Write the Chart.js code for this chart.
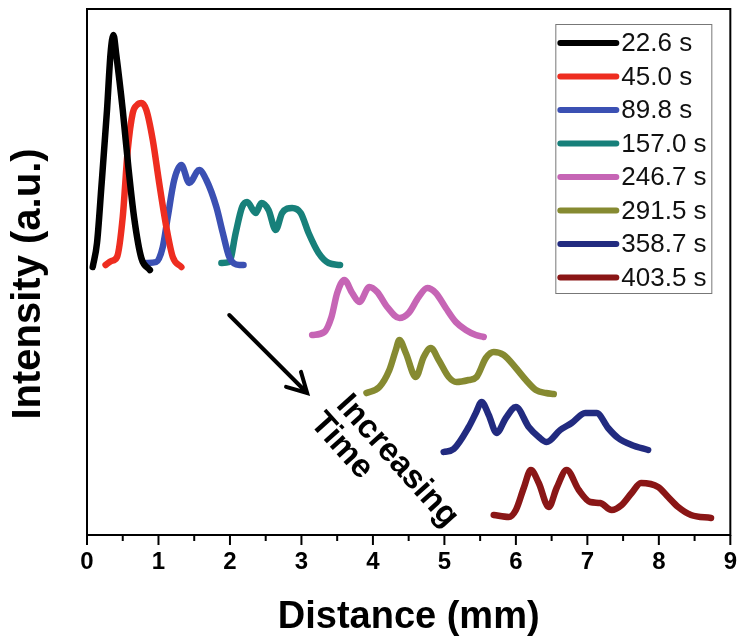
<!DOCTYPE html>
<html>
<head>
<meta charset="utf-8">
<script src="https://cdn.jsdelivr.net/npm/chart.js@4.4.1/dist/chart.umd.min.js"></script>
<style>
  body { margin: 0; background: #fff; }
  #wrap { width: 750px; height: 641px; }
</style>
</head>
<body>
<div id="wrap"><canvas id="mycanvas" width="750" height="641"></canvas></div>
<script>
// time labels of the profiles
var times = ['22.6 s', '45.0 s', '89.8 s', '157.0 s', '246.7 s', '291.5 s', '358.7 s', '403.5 s'];
var colors = ['#000000', '#ee2d20', '#3b50b3', '#17807a', '#c665b5', '#868a31', '#222b80', '#8a1616'];

// distance (mm) and intensity (a.u., offset per profile)
var x1 = [0.08, 0.14, 0.20, 0.28, 0.33, 0.37, 0.41, 0.50, 0.58, 0.66, 0.76, 0.88];
var y1 = [266, 290, 345, 423, 480, 498, 478, 423, 365, 315, 275, 263];

var x2 = [0.26, 0.34, 0.42, 0.50, 0.57, 0.64, 0.70, 0.76, 0.83, 0.92, 1.01, 1.11, 1.20, 1.32];
var y2 = [268, 272, 276, 316, 383, 420, 428, 430, 423, 393, 350, 306, 276, 266];

var x3 = [0.83, 0.97, 1.06, 1.13, 1.22, 1.32, 1.43, 1.57, 1.67, 1.81, 1.90, 1.99, 2.13, 2.19];
var y3 = [270, 271, 286, 316, 353, 368, 350, 363, 353, 326, 300, 276, 268, 268];

var x4 = [1.88, 1.99, 2.08, 2.17, 2.24, 2.36, 2.44, 2.54, 2.64, 2.73, 2.87, 2.99, 3.10, 3.24, 3.38, 3.54];
var y4 = [270, 271, 300, 326, 331, 320, 330, 323, 303, 320, 325, 320, 300, 280, 270, 268];

var x5 = [3.15, 3.32, 3.42, 3.50, 3.60, 3.71, 3.81, 3.95, 4.06, 4.20, 4.37, 4.50, 4.64, 4.76, 4.88, 5.02, 5.16, 5.30, 5.44, 5.55];
var y5 = [198, 201, 216, 240, 253, 240, 231, 246, 241, 226, 215, 220, 236, 245, 240, 225, 211, 203, 198, 196];

var x6 = [3.91, 4.09, 4.23, 4.32, 4.37, 4.46, 4.60, 4.71, 4.81, 4.92, 5.06, 5.17, 5.34, 5.45, 5.58, 5.69, 5.83, 6.00, 6.14, 6.28, 6.42, 6.53];
var y6 = [140, 146, 163, 183, 193, 180, 156, 176, 185, 173, 156, 151, 153, 156, 175, 181, 178, 165, 153, 143, 140, 139];

var x7 = [4.99, 5.13, 5.34, 5.44, 5.52, 5.62, 5.73, 5.86, 6.00, 6.18, 6.32, 6.43, 6.62, 6.78, 6.97, 7.13, 7.29, 7.43, 7.62, 7.85];
var y7 = [81, 84, 106, 120, 131, 118, 100, 115, 126, 106, 96, 91, 103, 110, 120, 120, 105, 95, 88, 83];

var x8 = [5.69, 5.90, 6.00, 6.11, 6.21, 6.32, 6.46, 6.57, 6.71, 6.88, 7.04, 7.18, 7.34, 7.48, 7.62, 7.75, 7.99, 8.13, 8.27, 8.45, 8.73];
var y8 = [18, 16, 23, 45, 63, 50, 26, 45, 63, 43, 31, 30, 23, 28, 40, 50, 46, 36, 26, 18, 15];

var xs = [x1, x2, x3, x4, x5, x6, x7, x8];
var ys = [y1, y2, y3, y4, y5, y6, y7, y8];

var xTickLabels = ['0', '1', '2', '3', '4', '5', '6', '7', '8', '9'];

// annotation: arrow and "Increasing Time" (data units)
var arrowFrom = [1.99, 218];
var arrowTo = [3.08, 140];
var noteLine1 = [4.34, 72];
var noteLine2 = [3.56, 87];

var FONT = '"Liberation Sans", Arial, sans-serif';
var NARROW = '"Liberation Sans Narrow", "Arial Narrow", "Liberation Sans", sans-serif';

var datasets = [];
for (var i = 0; i < times.length; i++) {
  var pts = [];
  for (var j = 0; j < xs[i].length; j++) {
    pts.push({x: xs[i][j], y: ys[i][j]});
  }
  datasets.push({
    label: times[i],
    data: pts,
    borderColor: colors[i],
    backgroundColor: colors[i],
    borderWidth: 6.5,
    pointRadius: 0,
    cubicInterpolationMode: 'monotone',
    borderCapStyle: 'round',
    borderJoinStyle: 'round',
    fill: false
  });
}

var decor = {
  id: 'decor',
  afterDraw: function (chart) {
    var ctx = chart.ctx;
    var a = chart.chartArea;
    var sx = chart.scales.x, sy = chart.scales.y;
    ctx.save();

    // frame
    ctx.strokeStyle = '#000';
    ctx.lineWidth = 2;
    ctx.strokeRect(a.left, a.top, a.right - a.left, a.bottom - a.top);

    // x ticks, major and minor
    ctx.lineWidth = 2;
    for (var v = 0; v <= 9; v += 0.5) {
      var px = sx.getPixelForValue(v);
      var len = (v % 1 === 0) ? 10 : 6;
      ctx.beginPath();
      ctx.moveTo(px, a.bottom);
      ctx.lineTo(px, a.bottom + len);
      ctx.stroke();
    }

    // y title
    ctx.fillStyle = '#000';
    ctx.font = 'bold 40px ' + FONT;
    ctx.textAlign = 'center';
    ctx.textBaseline = 'middle';
    ctx.translate(a.left - 58, (a.top + a.bottom) / 2 + 12);
    ctx.rotate(-Math.PI / 2);
    ctx.fillText('Intensity (a.u.)', 0, 0);
    ctx.setTransform(1, 0, 0, 1, 0, 0);

    // arrow
    var x0 = sx.getPixelForValue(arrowFrom[0]), y0 = sy.getPixelForValue(arrowFrom[1]);
    var xt = sx.getPixelForValue(arrowTo[0]), yt = sy.getPixelForValue(arrowTo[1]);
    var ang = Math.atan2(yt - y0, xt - x0);
    ctx.lineWidth = 4;
    ctx.lineCap = 'round';
    ctx.beginPath();
    ctx.moveTo(x0, y0);
    ctx.lineTo(xt, yt);
    ctx.moveTo(xt - 22 * Math.cos(ang - 0.5), yt - 22 * Math.sin(ang - 0.5));
    ctx.lineTo(xt, yt);
    ctx.lineTo(xt - 22 * Math.cos(ang + 0.5), yt - 22 * Math.sin(ang + 0.5));
    ctx.stroke();

    // rotated note
    ctx.font = 'bold 33px ' + FONT;
    ctx.textAlign = 'center';
    ctx.textBaseline = 'middle';
    var rot = 48 * Math.PI / 180;
    ctx.translate(sx.getPixelForValue(noteLine1[0]), sy.getPixelForValue(noteLine1[1]));
    ctx.rotate(rot);
    ctx.fillText('Increasing', 0, 0);
    ctx.setTransform(1, 0, 0, 1, 0, 0);
    ctx.translate(sx.getPixelForValue(noteLine2[0]), sy.getPixelForValue(noteLine2[1]));
    ctx.rotate(rot);
    ctx.fillText('Time', 0, 0);
    ctx.setTransform(1, 0, 0, 1, 0, 0);

    // legend box inside plot
    var bx = a.right - 175, by = a.top + 15, bw = 156, bh = 269;
    ctx.fillStyle = '#fff';
    ctx.fillRect(bx, by, bw, bh);
    ctx.strokeStyle = '#777';
    ctx.lineWidth = 1;
    ctx.strokeRect(bx + 0.5, by + 0.5, bw, bh);
    ctx.font = '26px ' + FONT;
    ctx.textAlign = 'left';
    ctx.textBaseline = 'middle';
    var ds = chart.data.datasets;
    for (var k = 0; k < ds.length; k++) {
      var ry = by + 19 + k * 33.5;
      ctx.strokeStyle = ds[k].borderColor;
      ctx.lineWidth = 6;
      ctx.lineCap = 'round';
      ctx.beginPath();
      ctx.moveTo(bx + 5, ry);
      ctx.lineTo(bx + 61, ry);
      ctx.stroke();
      ctx.fillStyle = '#111';
      ctx.fillText(ds[k].label, bx + 66, ry + 1);
    }
    ctx.restore();
  }
};

var ctx = document.getElementById('mycanvas');
var chart = new Chart(ctx, {
  type: 'line',
  data: { datasets: datasets },
  options: {
    responsive: false,
    animation: false,
    layout: { padding: { top: 9, right: 18, left: 0, bottom: 0 } },
    plugins: {
      legend: { display: false },
      tooltip: { enabled: false }
    },
    scales: {
      x: {
        type: 'linear',
        min: 0,
        max: 9,
        afterFit: function (scale) { scale.height = 106; },
        ticks: {
          stepSize: 1,
          autoSkip: false,
          maxRotation: 0,
          padding: 13,
          color: '#000',
          font: { family: NARROW, size: 24, weight: 'bold' },
          callback: function (v) { return xTickLabels[v]; }
        },
        grid: { display: false, drawTicks: false },
        border: { display: false },
        title: {
          display: true,
          text: 'Distance (mm)',
          color: '#000',
          font: { family: FONT, size: 38, weight: 'bold' },
          padding: { top: 0, bottom: 1 }
        }
      },
      y: {
        min: -2,
        max: 524,
        afterFit: function (scale) { scale.width = 87; },
        ticks: { display: false },
        grid: { display: false, drawTicks: false },
        border: { display: false }
      }
    }
  },
  plugins: [decor]
});
</script>
</body>
</html>
